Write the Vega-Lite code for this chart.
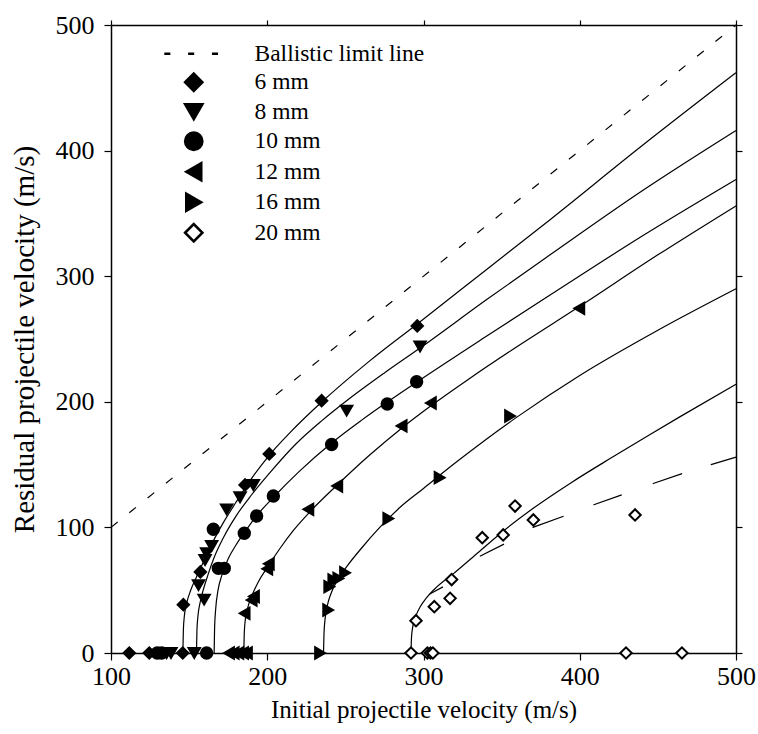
{
  "$schema": "https://vega.github.io/schema/vega-lite/v6.json",
  "width": 625,
  "height": 628,
  "autosize": {"type": "none"},
  "padding": {"left": 111, "top": 25, "right": 22, "bottom": 81},
  "background": "white",
  "config": {
    "view": {"stroke": null},
    "font": "Liberation Serif, Times New Roman, DejaVu Serif, serif",
    "axis": {
      "labelFont": "Liberation Serif, Times New Roman, DejaVu Serif, serif", "titleFont": "Liberation Serif, Times New Roman, DejaVu Serif, serif",
      "labelFontSize": 26, "titleFontSize": 25, "labelColor": "black", "titleColor": "black",
      "titleFontWeight": "normal", "domainColor": "black", "domainWidth": 1.5,
      "tickColor": "black", "tickWidth": 1.2, "tickSize": 7, "grid": false, "labelFlush": false
    },
    "legend": {
      "labelFont": "Liberation Serif, Times New Roman, DejaVu Serif, serif"
    }
  },
  "datasets": {
    "ballistic": [{"x": 100, "y": 100}, {"x": 500, "y": 500}],
    "alt20": [
      {"x": 304, "y": 47}, {"x": 313, "y": 53}, {"x": 336, "y": 77}, {"x": 352, "y": 87},
      {"x": 370, "y": 100}, {"x": 390, "y": 109}, {"x": 409, "y": 118}, {"x": 427, "y": 126},
      {"x": 447, "y": 135}, {"x": 466, "y": 143}, {"x": 484, "y": 150}, {"x": 500, "y": 156}
    ],
    "curves": [
      {"series": "6 mm", "x": 146, "y": 0}, {"series": "6 mm", "x": 146.3, "y": 18}, {"series": "6 mm", "x": 147, "y": 30},
      {"series": "6 mm", "x": 148.5, "y": 40}, {"series": "6 mm", "x": 151, "y": 50}, {"series": "6 mm", "x": 154.5, "y": 60},
      {"series": "6 mm", "x": 159, "y": 72}, {"series": "6 mm", "x": 165, "y": 88}, {"series": "6 mm", "x": 172, "y": 104},
      {"series": "6 mm", "x": 180, "y": 120}, {"series": "6 mm", "x": 190, "y": 139}, {"series": "6 mm", "x": 201, "y": 157},
      {"series": "6 mm", "x": 215, "y": 176}, {"series": "6 mm", "x": 235, "y": 200}, {"series": "6 mm", "x": 265, "y": 232},
      {"series": "6 mm", "x": 296, "y": 262}, {"series": "6 mm", "x": 340, "y": 305}, {"series": "6 mm", "x": 381, "y": 345},
      {"series": "6 mm", "x": 440, "y": 404}, {"series": "6 mm", "x": 500, "y": 462},

      {"series": "8 mm", "x": 154.7, "y": 0}, {"series": "8 mm", "x": 155, "y": 18}, {"series": "8 mm", "x": 155.7, "y": 30},
      {"series": "8 mm", "x": 157, "y": 40}, {"series": "8 mm", "x": 159, "y": 50}, {"series": "8 mm", "x": 162, "y": 62},
      {"series": "8 mm", "x": 166, "y": 76}, {"series": "8 mm", "x": 172, "y": 92}, {"series": "8 mm", "x": 180, "y": 109},
      {"series": "8 mm", "x": 190, "y": 126}, {"series": "8 mm", "x": 202, "y": 144}, {"series": "8 mm", "x": 218, "y": 166},
      {"series": "8 mm", "x": 235, "y": 185}, {"series": "8 mm", "x": 251, "y": 201}, {"series": "8 mm", "x": 275, "y": 223},
      {"series": "8 mm", "x": 298, "y": 243}, {"series": "8 mm", "x": 340, "y": 281}, {"series": "8 mm", "x": 381, "y": 317},
      {"series": "8 mm", "x": 440, "y": 368}, {"series": "8 mm", "x": 500, "y": 416},

      {"series": "10 mm", "x": 166, "y": 0}, {"series": "10 mm", "x": 166.3, "y": 20}, {"series": "10 mm", "x": 167, "y": 35},
      {"series": "10 mm", "x": 168.5, "y": 50}, {"series": "10 mm", "x": 171, "y": 62}, {"series": "10 mm", "x": 175, "y": 75},
      {"series": "10 mm", "x": 180, "y": 86}, {"series": "10 mm", "x": 186, "y": 97}, {"series": "10 mm", "x": 193, "y": 109},
      {"series": "10 mm", "x": 204, "y": 124}, {"series": "10 mm", "x": 220, "y": 144}, {"series": "10 mm", "x": 241, "y": 167},
      {"series": "10 mm", "x": 260, "y": 185}, {"series": "10 mm", "x": 277, "y": 200}, {"series": "10 mm", "x": 296, "y": 216},
      {"series": "10 mm", "x": 340, "y": 252}, {"series": "10 mm", "x": 381, "y": 285}, {"series": "10 mm", "x": 440, "y": 332},
      {"series": "10 mm", "x": 500, "y": 377},

      {"series": "12 mm", "x": 185, "y": 0}, {"series": "12 mm", "x": 185.3, "y": 16}, {"series": "12 mm", "x": 186, "y": 27},
      {"series": "12 mm", "x": 187.5, "y": 36}, {"series": "12 mm", "x": 190, "y": 45}, {"series": "12 mm", "x": 194, "y": 56},
      {"series": "12 mm", "x": 200, "y": 68}, {"series": "12 mm", "x": 208, "y": 83}, {"series": "12 mm", "x": 217, "y": 98},
      {"series": "12 mm", "x": 227, "y": 112}, {"series": "12 mm", "x": 245, "y": 134}, {"series": "12 mm", "x": 265, "y": 157},
      {"series": "12 mm", "x": 286, "y": 179}, {"series": "12 mm", "x": 305, "y": 197}, {"series": "12 mm", "x": 330, "y": 219},
      {"series": "12 mm", "x": 360, "y": 244}, {"series": "12 mm", "x": 400, "y": 276}, {"series": "12 mm", "x": 450, "y": 317},
      {"series": "12 mm", "x": 500, "y": 356},

      {"series": "16 mm", "x": 236, "y": 0}, {"series": "16 mm", "x": 236.3, "y": 15}, {"series": "16 mm", "x": 237, "y": 27},
      {"series": "16 mm", "x": 238.5, "y": 38}, {"series": "16 mm", "x": 241, "y": 48}, {"series": "16 mm", "x": 245, "y": 58},
      {"series": "16 mm", "x": 251, "y": 69}, {"series": "16 mm", "x": 260, "y": 83}, {"series": "16 mm", "x": 272, "y": 100},
      {"series": "16 mm", "x": 285, "y": 116}, {"series": "16 mm", "x": 300, "y": 131}, {"series": "16 mm", "x": 320, "y": 151},
      {"series": "16 mm", "x": 340, "y": 170}, {"series": "16 mm", "x": 360, "y": 188}, {"series": "16 mm", "x": 400, "y": 221},
      {"series": "16 mm", "x": 450, "y": 257}, {"series": "16 mm", "x": 500, "y": 290},

      {"series": "20 mm", "x": 292, "y": 0}, {"series": "20 mm", "x": 292.3, "y": 12}, {"series": "20 mm", "x": 293, "y": 20},
      {"series": "20 mm", "x": 295, "y": 29}, {"series": "20 mm", "x": 298, "y": 37}, {"series": "20 mm", "x": 302, "y": 44},
      {"series": "20 mm", "x": 308, "y": 52}, {"series": "20 mm", "x": 319, "y": 63}, {"series": "20 mm", "x": 335, "y": 80},
      {"series": "20 mm", "x": 350, "y": 96}, {"series": "20 mm", "x": 370, "y": 115}, {"series": "20 mm", "x": 395, "y": 136},
      {"series": "20 mm", "x": 421, "y": 156}, {"series": "20 mm", "x": 445, "y": 174}, {"series": "20 mm", "x": 464, "y": 188},
      {"series": "20 mm", "x": 500, "y": 214}
    ],
    "points": [
      {"series": "6 mm", "x": 111.7, "y": 0}, {"series": "6 mm", "x": 124.5, "y": 0}, {"series": "6 mm", "x": 145.9, "y": 0},
      {"series": "6 mm", "x": 146.3, "y": 38.5}, {"series": "6 mm", "x": 157.2, "y": 64.5}, {"series": "6 mm", "x": 185.8, "y": 133.8},
      {"series": "6 mm", "x": 201.3, "y": 158.5}, {"series": "6 mm", "x": 234.8, "y": 200.9}, {"series": "6 mm", "x": 296, "y": 260.4},

      {"series": "8 mm", "x": 135.6, "y": 0}, {"series": "8 mm", "x": 138.4, "y": 0}, {"series": "8 mm", "x": 153.3, "y": 0},
      {"series": "8 mm", "x": 156, "y": 54}, {"series": "8 mm", "x": 159.6, "y": 42.5}, {"series": "8 mm", "x": 160.2, "y": 74},
      {"series": "8 mm", "x": 161.2, "y": 79.4}, {"series": "8 mm", "x": 164.4, "y": 85.2}, {"series": "8 mm", "x": 174, "y": 114.4},
      {"series": "8 mm", "x": 182.6, "y": 124}, {"series": "8 mm", "x": 191.1, "y": 133.8}, {"series": "8 mm", "x": 250.8, "y": 193},
      {"series": "8 mm", "x": 297.8, "y": 244},

      {"series": "10 mm", "x": 129.6, "y": 0}, {"series": "10 mm", "x": 132.4, "y": 0}, {"series": "10 mm", "x": 161.2, "y": 0},
      {"series": "10 mm", "x": 165.5, "y": 98.5}, {"series": "10 mm", "x": 168.7, "y": 67.4}, {"series": "10 mm", "x": 172.5, "y": 67.4},
      {"series": "10 mm", "x": 185.3, "y": 95.3}, {"series": "10 mm", "x": 193.2, "y": 109.1}, {"series": "10 mm", "x": 203.9, "y": 125},
      {"series": "10 mm", "x": 241.2, "y": 166}, {"series": "10 mm", "x": 276.8, "y": 198.2}, {"series": "10 mm", "x": 295.6, "y": 216},

      {"series": "12 mm", "x": 175.5, "y": 0}, {"series": "12 mm", "x": 178.5, "y": 0}, {"series": "12 mm", "x": 181.5, "y": 0},
      {"series": "12 mm", "x": 184.5, "y": 0}, {"series": "12 mm", "x": 187, "y": 0}, {"series": "12 mm", "x": 185.5, "y": 31.6},
      {"series": "12 mm", "x": 190, "y": 42.2}, {"series": "12 mm", "x": 191.5, "y": 45}, {"series": "12 mm", "x": 200, "y": 67},
      {"series": "12 mm", "x": 201, "y": 71}, {"series": "12 mm", "x": 226.3, "y": 114.4}, {"series": "12 mm", "x": 244.8, "y": 133},
      {"series": "12 mm", "x": 286, "y": 180.8}, {"series": "12 mm", "x": 304.7, "y": 199}, {"series": "12 mm", "x": 399.7, "y": 274.4},

      {"series": "16 mm", "x": 233.8, "y": 0}, {"series": "16 mm", "x": 239, "y": 34.2}, {"series": "16 mm", "x": 239.7, "y": 52.8},
      {"series": "16 mm", "x": 242.3, "y": 58.1}, {"series": "16 mm", "x": 245.5, "y": 59.4}, {"series": "16 mm", "x": 249.8, "y": 63.9},
      {"series": "16 mm", "x": 277.5, "y": 107}, {"series": "16 mm", "x": 310.3, "y": 139.6}, {"series": "16 mm", "x": 355.4, "y": 188.7},

      {"series": "20 mm", "x": 292, "y": 0}, {"series": "20 mm", "x": 302.5, "y": 0}, {"series": "20 mm", "x": 304.5, "y": 0},
      {"series": "20 mm", "x": 306, "y": 0}, {"series": "20 mm", "x": 429.6, "y": 0}, {"series": "20 mm", "x": 465.4, "y": 0},
      {"series": "20 mm", "x": 295.2, "y": 25.7}, {"series": "20 mm", "x": 306.9, "y": 36.9}, {"series": "20 mm", "x": 317, "y": 43.5},
      {"series": "20 mm", "x": 318, "y": 58.5}, {"series": "20 mm", "x": 337.6, "y": 91.8}, {"series": "20 mm", "x": 351, "y": 94},
      {"series": "20 mm", "x": 358.6, "y": 117}, {"series": "20 mm", "x": 370.3, "y": 105.9}, {"series": "20 mm", "x": 435.4, "y": 109.9}
    ]
  },
  "layer": [
    {
      "data": {"name": "ballistic"},
      "mark": {"type": "line", "stroke": "black", "strokeWidth": 1.2, "strokeDash": [8.5, 15]},
      "encoding": {
        "x": {"field": "x", "type": "quantitative",
              "scale": {"domain": [100, 500], "nice": false, "zero": false},
              "axis": {"orient": "bottom", "values": [100, 200, 300, 400, 500], "title": "Initial projectile velocity (m/s)", "labelPadding": 3, "titlePadding": 8}},
        "y": {"field": "y", "type": "quantitative",
              "scale": {"domain": [0, 500], "nice": false, "zero": false},
              "axis": {"orient": "left", "values": [0, 100, 200, 300, 400, 500], "title": "Residual projectile velocity (m/s)", "titleFontSize": 29, "labelPadding": 10, "titlePadding": 16}}
      }
    },
    {
      "data": {"name": "curves"},
      "mark": {"type": "line", "stroke": "black", "strokeWidth": 1.2, "interpolate": "monotone"},
      "encoding": {
        "x": {"field": "x", "type": "quantitative",
              "scale": {"domain": [100, 500], "nice": false, "zero": false},
              "axis": {"orient": "top", "values": [100, 200, 300, 400, 500], "labels": false, "title": null, "tickSize": 5}},
        "y": {"field": "y", "type": "quantitative",
              "scale": {"domain": [0, 500], "nice": false, "zero": false},
              "axis": {"orient": "right", "values": [0, 100, 200, 300, 400, 500], "labels": false, "title": null, "tickSize": 6}},
        "detail": {"field": "series", "type": "nominal"}
      }
    },
    {
      "data": {"name": "alt20"},
      "mark": {"type": "line", "stroke": "black", "strokeWidth": 1.2, "strokeDash": [15, 48, 27, 33, 33, 32, 30, 33, 31, 30, 30, 10]},
      "encoding": {
        "x": {"field": "x", "type": "quantitative", "scale": {"domain": [100, 500], "nice": false, "zero": false}, "axis": null},
        "y": {"field": "y", "type": "quantitative", "scale": {"domain": [0, 500], "nice": false, "zero": false}, "axis": null}
      }
    },
    {
      "data": {"name": "points"},
      "mark": {"type": "point", "size": 130, "strokeWidth": 2, "opacity": 1},
      "encoding": {
        "x": {"field": "x", "type": "quantitative", "scale": {"domain": [100, 500], "nice": false, "zero": false}, "axis": null},
        "y": {"field": "y", "type": "quantitative", "scale": {"domain": [0, 500], "nice": false, "zero": false}, "axis": null},
        "shape": {"field": "series", "type": "nominal",
                  "scale": {"domain": ["Ballistic limit line", "6 mm", "8 mm", "10 mm", "12 mm", "16 mm", "20 mm"],
                            "range": ["M-3.4,0H-2.7M-0.65,0H0.05M2.1,0H2.8", "diamond", "triangle-down", "circle", "triangle-left", "triangle-right", "diamond"]},
                  "legend": {"title": null, "orient": "none", "legendX": 71, "legendY": 17, "labelFontSize": 23.5, "labelColor": "black", "symbolSize": 300, "symbolStrokeWidth": 2.5, "symbolOpacity": 1, "rowPadding": 2.5, "labelOffset": 49, "padding": 0, "labelLimit": 400}},
        "fill": {"field": "series", "type": "nominal",
                 "scale": {"domain": ["Ballistic limit line", "6 mm", "8 mm", "10 mm", "12 mm", "16 mm", "20 mm"],
                           "range": ["transparent", "black", "black", "black", "black", "black", "white"]},
                 "legend": {"title": null, "orient": "none", "legendX": 71, "legendY": 17, "labelFontSize": 23.5, "labelColor": "black", "symbolSize": 300, "symbolStrokeWidth": 2.5, "symbolOpacity": 1, "rowPadding": 2.5, "labelOffset": 49, "padding": 0, "labelLimit": 400}},
        "stroke": {"field": "series", "type": "nominal",
                 "scale": {"domain": ["Ballistic limit line", "6 mm", "8 mm", "10 mm", "12 mm", "16 mm", "20 mm"],
                           "range": ["black", "black", "black", "black", "black", "black", "black"]},
                 "legend": {"title": null, "orient": "none", "legendX": 71, "legendY": 17, "labelFontSize": 23.5, "labelColor": "black", "symbolSize": 300, "symbolStrokeWidth": 2.5, "symbolOpacity": 1, "rowPadding": 2.5, "labelOffset": 49, "padding": 0, "labelLimit": 400}}
      }
    }
  ],
  "resolve": {"axis": {"x": "independent", "y": "independent"}}
}
